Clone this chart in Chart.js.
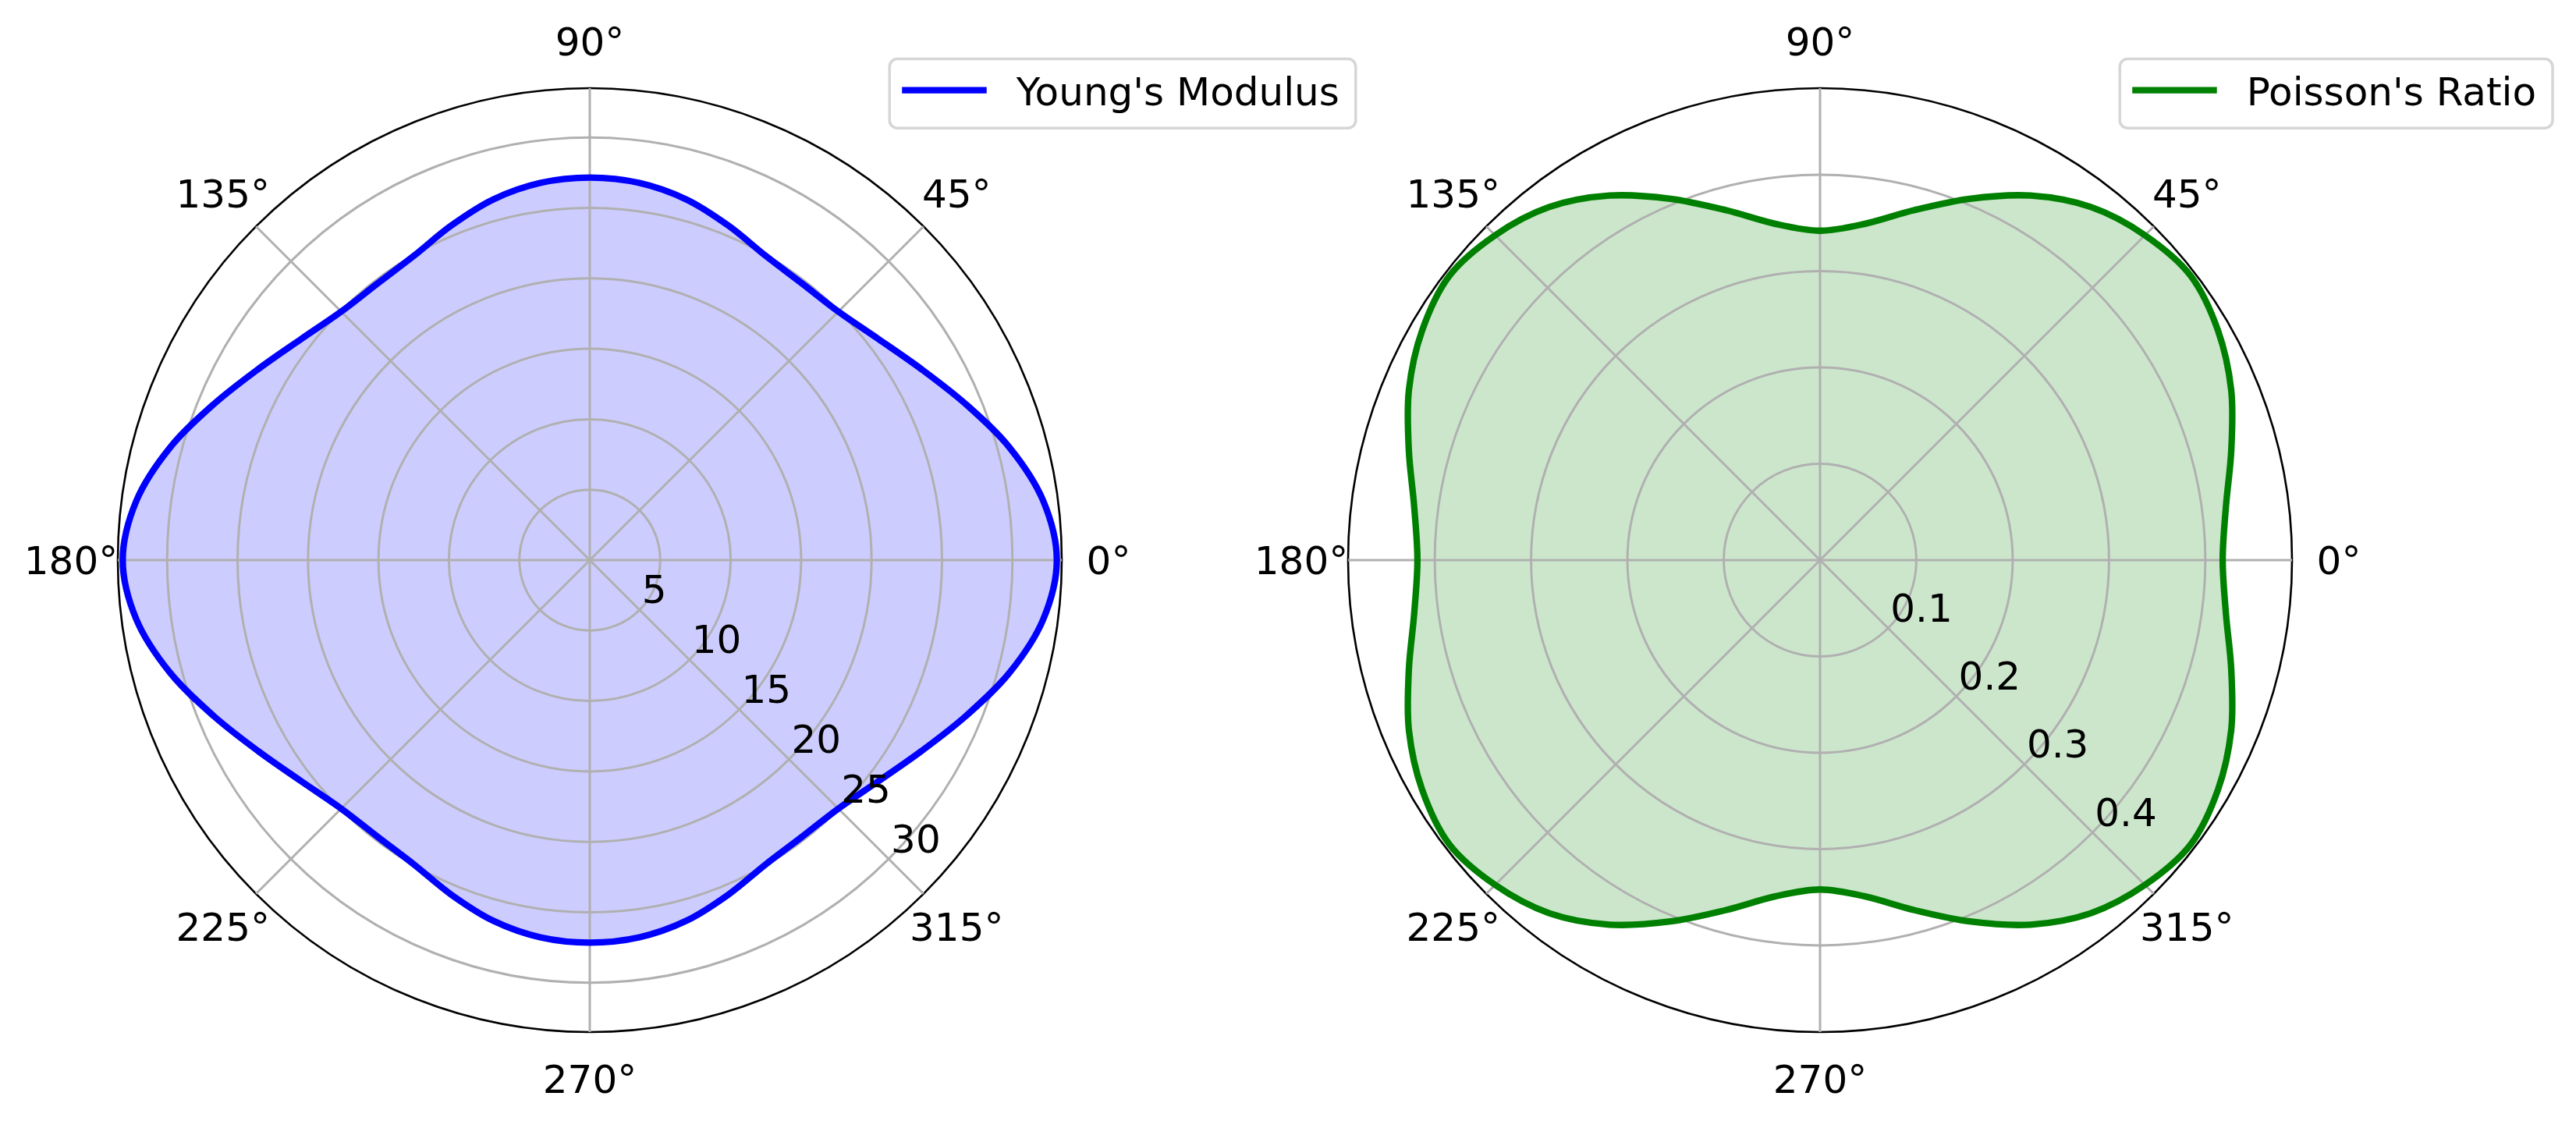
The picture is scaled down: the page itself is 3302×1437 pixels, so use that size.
<!DOCTYPE html>
<html>
<head>
<meta charset="utf-8">
<title>Young's Modulus / Poisson's Ratio</title>
<script src="https://cdn.jsdelivr.net/npm/chart.js@4.4.1/dist/chart.umd.min.js"></script>
<style>
    html, body { margin: 0; padding: 0; background: #ffffff; }
    #page { position: relative; width: 3302px; height: 1437px; overflow: hidden; }
    .chart-box { position: absolute; top: 0; height: 1437px; }
</style>
</head>
<body>
<div id="page">
    <div class="chart-box" style="left:0; width:1800px;"><canvas id="youngChart"></canvas></div>
    <div class="chart-box" style="left:1560px; width:1742px;"><canvas id="poissonChart"></canvas></div>
</div>
<script>
// Global vars
// angles in degrees, counter-clockwise from 0° (right)
var angles = [
    0, 7.5, 15, 22.5, 30, 37.5, 45, 52.5, 60, 67.5, 75, 82.5,
    90, 97.5, 105, 112.5, 120, 127.5, 135, 142.5, 150, 157.5, 165, 172.5,
    180, 187.5, 195, 202.5, 210, 217.5, 225, 232.5, 240, 247.5, 255, 262.5,
    270, 277.5, 285, 292.5, 300, 307.5, 315, 322.5, 330, 337.5, 345, 352.5
];

var youngValues = [
    33.15, 32.45, 30.85, 28.9, 27.15, 25.8, 24.95, 24.75, 24.95, 25.7, 26.5, 27.0,
    27.15, 27.0, 26.5, 25.7, 24.95, 24.75, 24.95, 25.8, 27.15, 28.9, 30.85, 32.45,
    33.15, 32.45, 30.85, 28.9, 27.15, 25.8, 24.95, 24.75, 24.95, 25.7, 26.5, 27.0,
    27.15, 27.0, 26.5, 25.7, 24.95, 24.75, 24.95, 25.8, 27.15, 28.9, 30.85, 32.45
];

var poissonValues = [
    0.418, 0.425, 0.442, 0.462, 0.477, 0.485, 0.477, 0.462, 0.437, 0.406, 0.376, 0.352,
    0.342, 0.352, 0.376, 0.406, 0.437, 0.462, 0.477, 0.485, 0.477, 0.462, 0.442, 0.425,
    0.418, 0.425, 0.442, 0.462, 0.477, 0.485, 0.477, 0.462, 0.437, 0.406, 0.376, 0.352,
    0.342, 0.352, 0.376, 0.406, 0.437, 0.462, 0.477, 0.485, 0.477, 0.462, 0.442, 0.425
];

var thetaTicks = [0, 45, 90, 135, 180, 225, 270, 315];
var youngTicks = [5, 10, 15, 20, 25, 30];
var poissonTicks = [0.1, 0.2, 0.3, 0.4];
var youngMax = 33.5;
var poissonMax = 0.49;

var FONT = '50px "DejaVu Sans"';

Chart.defaults.font.family = '"DejaVu Sans"';
Chart.defaults.font.size = 50;
Chart.defaults.color = '#000000';

/**
 * Radar goes clockwise from startAngle, matplotlib polar goes counter-clockwise.
 * Index i of the radar is angle -i * step.
 */
function toRadar(values) {
    var n = values.length;
    var ret = [];
    for (var i = 0; i < n; i++) {
        ret.push(values[(n - i) % n]);
    }
    return ret;
}

function radarLabels() {
    return toRadar(angles).map(function (a) {
        return thetaTicks.indexOf(a) >= 0 ? a + '°' : '';
    });
}

function roundedBox(ctx, x, y, w, h, r) {
    ctx.beginPath();
    ctx.moveTo(x + r, y);
    ctx.lineTo(x + w - r, y);
    ctx.arcTo(x + w, y, x + w, y + r, r);
    ctx.lineTo(x + w, y + h - r);
    ctx.arcTo(x + w, y + h, x + w - r, y + h, r);
    ctx.lineTo(x + r, y + h);
    ctx.arcTo(x, y + h, x, y + h - r, r);
    ctx.lineTo(x, y + r);
    ctx.arcTo(x, y, x + r, y, r);
    ctx.closePath();
}

// angle labels, radial tick labels and the framed legend
var polarText = {
    id: 'polarText',
    afterDraw: function (chart, args, opts) {
        var scale = chart.scales.r;
        var ctx = chart.ctx;

        ctx.save();
        ctx.font = FONT;
        ctx.fillStyle = '#000000';
        ctx.textBaseline = 'alphabetic';

        ctx.textAlign = 'center';
        chart.data.labels.forEach(function (label, i) {
            if (!label) {
                return;
            }
            var p = scale.getPointPosition(i, scale.drawingArea + 60);
            ctx.fillText(label, p.x, p.y + 18);
        });

        ctx.textAlign = 'left';
        opts.ticks.forEach(function (v) {
            var d = scale.getDistanceFromCenterForValue(v) * Math.SQRT1_2;
            ctx.fillText(String(v), scale.xCenter + d + 3, scale.yCenter + d - 8.5);
        });

        // legend
        var ds = chart.data.datasets[0];
        var tw = ctx.measureText(ds.label).width;
        var right = scale.xCenter + opts.legendRight;
        var top = scale.yCenter + opts.legendTop;
        var left = right - (16 + 108.5 + 38 + tw + 21);
        roundedBox(ctx, left, top, right - left, 88.6, 10);
        ctx.fillStyle = '#ffffff';
        ctx.fill();
        ctx.lineWidth = 3.5;
        ctx.strokeStyle = '#d6d6d6';
        ctx.stroke();

        ctx.beginPath();
        ctx.moveTo(left + 16, top + 40);
        ctx.lineTo(left + 124.5, top + 40);
        ctx.lineWidth = 8.3;
        ctx.strokeStyle = ds.borderColor;
        ctx.stroke();

        ctx.fillStyle = '#000000';
        ctx.fillText(ds.label, left + 162.5, top + 59.4);
        ctx.restore();
    }
};

function drawPolar(canvasId, label, values, ticks, rMax, color, fillColor, padding, legendRight) {
    var ctx = document.getElementById(canvasId).getContext('2d');

    return new Chart(ctx, {
        type: 'radar',
        data: {
            labels: radarLabels(),
            datasets: [{
                label: label,
                data: toRadar(values),
                borderColor: color,
                backgroundColor: fillColor,
                borderWidth: 8.3,
                fill: 'origin',
                tension: 0.33,
                pointRadius: 0,
                pointHoverRadius: 0
            }]
        },
        options: {
            responsive: true,
            maintainAspectRatio: false,
            animation: false,
            events: [],
            layout: { padding: padding },
            plugins: {
                legend: { display: false },
                tooltip: { enabled: false },
                filler: { drawTime: 'beforeDraw' },
                polarText: { ticks: ticks, legendRight: legendRight, legendTop: -642.4 }
            },
            scales: {
                r: {
                    min: 0,
                    max: rMax,
                    startAngle: 90,
                    afterBuildTicks: function (axis) {
                        axis.ticks = [0].concat(ticks, [rMax]).map(function (v) {
                            return { value: v };
                        });
                    },
                    ticks: { display: false },
                    pointLabels: { display: false },
                    grid: {
                        circular: true,
                        color: function (c) {
                            return c.tick && c.tick.value >= rMax ? '#000000' : '#b0b0b0';
                        },
                        lineWidth: function (c) {
                            return c.tick && c.tick.value >= rMax ? 2.6 : 3;
                        }
                    },
                    angleLines: {
                        color: '#b0b0b0',
                        lineWidth: function (c) {
                            return c.label ? 3 : 0;
                        }
                    }
                }
            }
        },
        plugins: [polarText]
    });
}

drawPolar('youngChart', "Young's Modulus", youngValues, youngTicks, youngMax,
    '#0000ff', 'rgba(0, 0, 255, 0.2)',
    { left: 151, top: 113, right: 439, bottom: 114 }, 981.8);

drawPolar('poissonChart', "Poisson's Ratio", poissonValues, poissonTicks, poissonMax,
    '#008000', 'rgba(0, 128, 0, 0.2)',
    { left: 168, top: 113, right: 364, bottom: 114 }, 939);
</script>
</body>
</html>
